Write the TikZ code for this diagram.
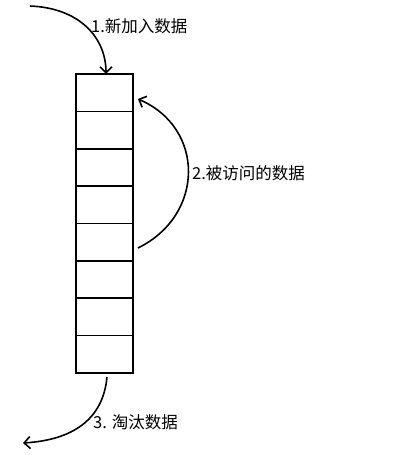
\documentclass[tikz,border=0pt]{standalone}
\usepackage{fontspec}
\setmainfont{Noto Sans CJK SC}
\usetikzlibrary{arrows.meta}
\begin{document}
\begin{tikzpicture}[x=1pt,y=-1pt,
  cell/.style={draw,line width=1.7pt,minimum width=57pt,minimum height=37.4pt,inner sep=0pt,outer sep=0pt},
  flow/.style={line width=1.6pt,-{Straight Barb[length=6pt,width=12pt,line width=1.6pt]}},
  lbl/.style={font=\fontsize{16.5}{18}\selectfont,inner sep=0pt,anchor=west}]
\useasboundingbox (0,0) rectangle (406,455);
\foreach \i in {1,...,8}{
  \node[cell] (c\i) at (104.5,{74+37.375*(\i-0.5)}) {};
}
\coordinate (s1) at (30,6);
\coordinate (s2) at (138,248);
\coordinate (e2) at (138,99);
\coordinate (s3) at (107,377);
\coordinate (e3) at (23,443);
\draw[flow] (s1) .. controls (80,8) and (106,38) .. ([xshift=1.5pt]c1.north);
\draw[flow] (s2) .. controls (205,215) and (205,128) .. (e2);
\draw[flow] (s3) .. controls (103,420) and (72,440) .. (e3);
\node[lbl] (t1) at (91,26) {1.新加入数据};
\node[lbl] (t2) at (192,173) {2.被访问的数据};
\node[lbl] (t3) at (93,422) {3. 淘汰数据};
\end{tikzpicture}
\end{document}
